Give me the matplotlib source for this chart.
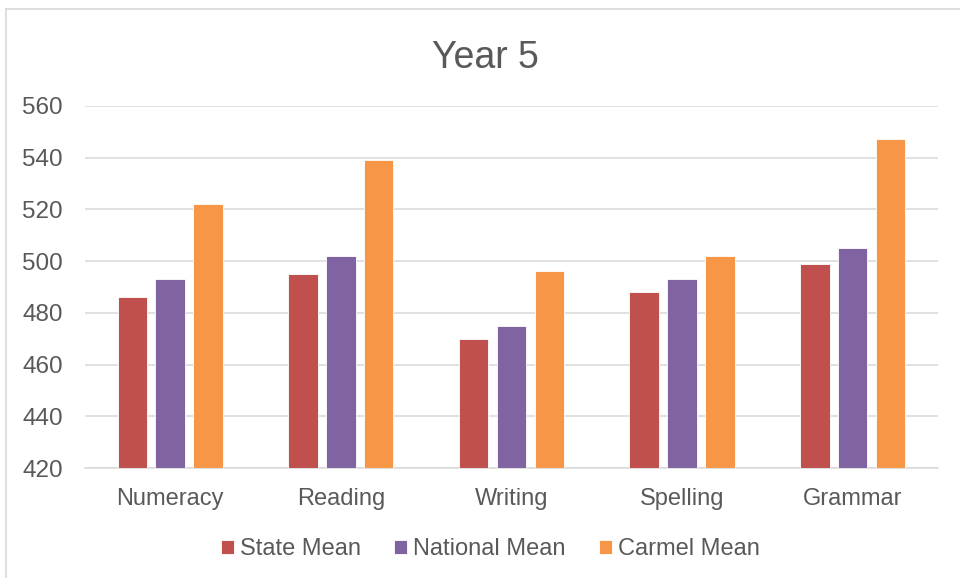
import matplotlib.pyplot as plt
import numpy as np

subjects = ['Numeracy', 'Reading', 'Writing', 'Spelling', 'Grammar']
state_mean = [486, 495, 470, 488, 499]
national_mean = [493, 502, 475, 493, 505]
carmel_mean = [522, 539, 496, 502, 547]

plt.rcParams['font.family'] = ['Liberation Sans', 'DejaVu Sans']
text_col = '#595959'
grid_col = '#D9D9D9'

fig = plt.figure(figsize=(9.6, 5.78), dpi=100)
ax = fig.add_axes([0.0885, 0.19, 0.8885, 0.627])

x = np.arange(len(subjects))
w = 0.173
off = 0.222
ax.bar(x - off, state_mean, w, color='#C0504D', edgecolor='white', linewidth=0.6, label='State Mean', zorder=3)
ax.bar(x, national_mean, w, color='#8064A2', edgecolor='white', linewidth=0.6, label='National Mean', zorder=3)
ax.bar(x + off, carmel_mean, w, color='#F79646', edgecolor='white', linewidth=0.6, label='Carmel Mean', zorder=3)

ax.set_ylim(420, 560)
ax.set_xlim(-0.5, len(subjects) - 0.5)
ax.set_yticks(range(420, 561, 20))
ax.set_xticks(x)
ax.set_xticklabels(subjects)
ax.yaxis.grid(True, color=grid_col, linewidth=1.1, zorder=0)
ax.set_axisbelow(True)
for s in ['top', 'right', 'left']:
    ax.spines[s].set_visible(False)
ax.spines['bottom'].set_color(grid_col)
ax.spines['bottom'].set_linewidth(1.1)
ax.tick_params(length=0, labelcolor=text_col)
ax.tick_params(axis='y', pad=16, labelsize=17.5)
ax.tick_params(axis='x', pad=14, labelsize=17)

fig.text(0.506, 0.899, 'Year 5', ha='center', va='center', fontsize=27, color=text_col)

fig.legend(loc='center', bbox_to_anchor=(0.511, 0.05), ncol=3, frameon=False,
           fontsize=17, handlelength=0.55, handleheight=0.55, handletextpad=0.25,
           columnspacing=1.4, labelcolor=text_col)

# chart border
fig.add_artist(plt.Line2D([0.0065, 0.0065], [0, 0.984], color=grid_col, linewidth=1.2))
fig.add_artist(plt.Line2D([0.0065, 1], [0.984, 0.984], color=grid_col, linewidth=1.2))

fig.savefig('out.png', dpi=100)
